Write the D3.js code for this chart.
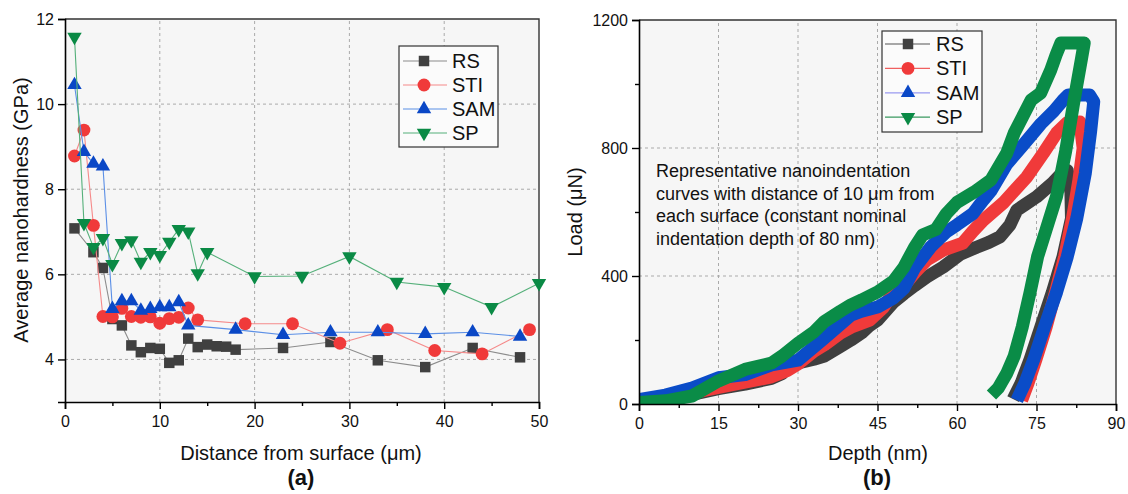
<!DOCTYPE html>
<html>
<head>
<meta charset="utf-8">
<script src="https://cdn.jsdelivr.net/npm/d3@7"></script>
<style>
  body { margin: 0; background: #fff; }
  svg text { font-family: "Liberation Sans", Arial, sans-serif; fill: #111; }
</style>
</head>
<body>
<svg id="fig" width="1128" height="494"></svg>
<script>
// ---- panel (a): hardness vs distance ----
const seriesNames = ['RS', 'STI', 'SAM', 'SP'];

const rsDist  = [1, 3, 4, 5, 6, 7, 8, 9, 10, 11, 12, 13, 14, 15, 16, 17, 18, 23, 28, 33, 38, 43, 48];
const rsHard  = [7.08, 6.52, 6.15, 4.95, 4.8, 4.33, 4.17, 4.27, 4.25, 3.92, 3.98, 4.49, 4.29, 4.35, 4.31, 4.3, 4.23, 4.27, 4.41, 3.98, 3.82, 4.27, 4.05];
const stiDist = [1, 2, 3, 4, 5, 6, 7, 8, 9, 10, 11, 12, 13, 14, 19, 24, 29, 34, 39, 44, 49];
const stiHard = [8.78, 9.39, 7.15, 5.01, 5.0, 5.2, 5.01, 4.99, 5.0, 4.85, 4.96, 4.99, 5.21, 4.93, 4.84, 4.84, 4.38, 4.7, 4.21, 4.13, 4.7];
const samDist = [1, 2, 3, 4, 5, 6, 7, 8, 9, 10, 11, 12, 13, 18, 23, 28, 33, 38, 43, 48];
const samHard = [10.45, 8.88, 8.6, 8.54, 5.19, 5.37, 5.37, 5.15, 5.19, 5.23, 5.23, 5.35, 4.8, 4.7, 4.58, 4.64, 4.64, 4.6, 4.64, 4.54];
const spDist  = [1, 2, 3, 4, 5, 6, 7, 8, 9, 10, 11, 12, 13, 14, 15, 20, 25, 30, 35, 40, 45, 50];
const spHard  = [11.58, 7.2, 6.64, 6.85, 6.24, 6.73, 6.8, 6.29, 6.52, 6.45, 6.76, 7.06, 7.0, 6.02, 6.52, 5.95, 5.96, 6.42, 5.82, 5.7, 5.23, 5.79];

const distTicks  = [0, 10, 20, 30, 40, 50];
const distMinor  = [5, 15, 25, 35, 45];
const hardTicks  = [4, 6, 8, 10, 12];

// ---- panel (b): load vs depth (loading, hold, unloading) ----
const rsDepth  = [0, 5, 10, 15, 20, 25, 27, 28, 30, 33, 35, 38, 40, 42, 43.5, 45, 48, 50, 52, 54.3, 57.4, 60.6, 63.7, 66, 68.1, 70, 71.3, 73, 75, 78, 80, 80.8, 81.5, 81.6, 80, 78, 75.8, 73.8, 72.1, 70.6];
const rsLoad   = [5, 15, 30, 48, 62, 80, 95, 115, 128, 140, 150, 180, 200, 222, 245, 262, 318, 345, 370, 397, 428, 468, 490, 505, 522, 560, 606, 625, 647, 690, 725, 730, 660, 580, 460, 350, 240, 140, 65, 15];
const stiDepth = [0, 5, 10, 15, 20, 25, 28, 30, 33, 35, 38, 40, 43.5, 46, 47.4, 49.8, 52, 54.3, 57.4, 61.1, 63, 65, 68.7, 71, 73.2, 76.3, 78.8, 80.7, 83.2, 83.8, 83, 81.8, 80.3, 78.6, 76.8, 74.9, 73.4, 72.2];
const stiLoad  = [8, 20, 35, 52, 68, 85, 105, 125, 165, 185, 222, 240, 262, 300, 334, 366, 410, 450, 481, 503, 540, 575, 628, 670, 710, 784, 847, 878, 881, 800, 700, 580, 460, 350, 240, 140, 65, 12];
const samDepth = [0, 5, 10, 15, 20, 25, 30, 35, 40, 42, 45, 48, 50, 52, 55, 58, 60, 63, 65, 66.4, 69.4, 72.6, 75.8, 78.3, 80.2, 81, 85, 85.8, 85.2, 84.2, 82.6, 80.8, 78.8, 76.5, 74.5, 72.8, 71.3];
const samLoad  = [14, 28, 50, 82, 92, 122, 137, 206, 278, 290, 303, 331, 362, 425, 490, 538, 560, 595, 638, 666, 750, 812, 875, 916, 953, 966, 966, 945, 850, 720, 580, 460, 350, 240, 140, 65, 12];
const spDepth  = [0, 5, 10, 15, 20, 25, 27, 30, 33, 35, 38, 40, 42, 45, 48, 50, 52, 53.5, 56, 58, 60, 63.2, 66.4, 69.4, 70.8, 74, 75.8, 77.7, 78.7, 79.6, 84, 83.5, 82, 80.5, 78.8, 76.8, 75.2, 73.8, 72.3, 70.8, 69.4, 67.8, 66.5];
const spLoad   = [5, 10, 25, 72, 108, 128, 150, 190, 225, 258, 290, 310, 325, 350, 384, 428, 490, 528, 545, 595, 630, 662, 700, 784, 847, 950, 972, 1044, 1091, 1128, 1128, 1080, 940, 790, 650, 544, 460, 350, 240, 150, 96, 50, 28];

const depthTicks = [0, 15, 30, 45, 60, 75, 90];
const depthMinor = [7.5, 22.5, 37.5, 52.5, 67.5, 82.5];
const loadTicks  = [0, 400, 800, 1200];
const loadMinor  = [200, 600, 1000];

const noteLines = [
  'Representative nanoindentation',
  'curves with distance of 10 \u03bcm from',
  'each surface (constant nominal',
  'indentation depth of 80 nm)'
];

const markColors  = ['#404040', '#f03a3a', '#0a47c6', '#0a8a45'];
const lineColors  = ['#8c8c8c', '#f58a8a', '#5b8fe6', '#55b07a'];
const curveColors = ['#3f3f3f', '#f03a3a', '#0a4cc8', '#0a8c47'];
const legLineB    = ['#555555', '#f06060', '#9a9af0', '#3a9a60'];

const svg = d3.select('#fig');

function symbolPath(i, size) {
  const types = [d3.symbolSquare, d3.symbolCircle, d3.symbolTriangle, d3.symbolTriangle];
  return d3.symbol().type(types[i]).size(size)();
}
function symbolRot(i) { return i === 3 ? ' rotate(180)' : ''; }

function styleAxis(g) {
  g.select('.domain').attr('stroke', '#000').attr('stroke-width', 1.6);
  g.selectAll('.tick line').attr('stroke', '#000').attr('stroke-width', 1.4);
  g.selectAll('.tick text').style('font-size', '16px').attr('fill', '#111');
}

function panel(x, y, xt, yt) {
  const [x0, x1] = x.range();
  const [y0, y1] = y.range();
  const g = svg.append('g');

  g.append('rect')
    .attr('x', x0).attr('y', y1)
    .attr('width', x1 - x0).attr('height', y0 - y1)
    .attr('fill', '#f6f6f6');

  // grid
  g.selectAll('.vg').data(xt.slice(1, -1)).enter().append('line')
    .attr('x1', d => x(d)).attr('x2', d => x(d))
    .attr('y1', y0).attr('y2', y1)
    .attr('stroke', '#aaa').attr('stroke-width', 1).attr('stroke-dasharray', '3,3');
  g.selectAll('.hg').data(yt.filter(d => y(d) < y0 - 1 && y(d) > y1 + 1)).enter().append('line')
    .attr('y1', d => y(d)).attr('y2', d => y(d))
    .attr('x1', x0).attr('x2', x1)
    .attr('stroke', '#aaa').attr('stroke-width', 1).attr('stroke-dasharray', '3,3');

  // frame top/right
  g.append('path')
    .attr('d', `M${x0},${y1}H${x1}V${y0}`)
    .attr('fill', 'none').attr('stroke', '#333').attr('stroke-width', 1.4);

  return g;
}

function axes(x, y, xt, xm, yt, ym) {
  const [x0] = x.range();
  const [y0] = y.range();
  const ax = svg.append('g').attr('transform', `translate(0,${y0})`)
    .call(d3.axisBottom(x).tickValues(xt).tickSize(7).tickPadding(7).tickFormat(d3.format('d')));
  styleAxis(ax);
  if (xm.length) {
    const axm = svg.append('g').attr('transform', `translate(0,${y0})`)
      .call(d3.axisBottom(x).tickValues(xm).tickSize(4).tickFormat(''));
    styleAxis(axm);
    axm.select('.domain').remove();
  }
  const ay = svg.append('g').attr('transform', `translate(${x0},0)`)
    .call(d3.axisLeft(y).tickValues(yt).tickSize(7).tickPadding(4).tickFormat(d3.format('d')));
  styleAxis(ay);
  if (ym.length) {
    const aym = svg.append('g').attr('transform', `translate(${x0},0)`)
      .call(d3.axisLeft(y).tickValues(ym).tickSize(4).tickFormat(''));
    styleAxis(aym);
    aym.select('.domain').remove();
  }
}

// ================= panel (a) =================
const xA = d3.scaleLinear().domain([0, 50]).range([65, 539]);
const yA = d3.scaleLinear().domain([3, 12]).range([402, 19]);

panel(xA, yA, distTicks, hardTicks);

const dataA = [
  d3.zip(rsDist, rsHard),
  d3.zip(stiDist, stiHard),
  d3.zip(samDist, samHard),
  d3.zip(spDist, spHard)
];

const lineA = d3.line().x(d => xA(d[0])).y(d => yA(d[1]));
const sizesA = [110, 130, 90, 90];

dataA.forEach((pts, i) => {
  const g = svg.append('g');
  g.append('path').attr('d', lineA(pts))
    .attr('fill', 'none').attr('stroke', lineColors[i]).attr('stroke-width', 1.1);
  g.selectAll('path.m').data(pts).enter().append('path')
    .attr('class', 'm')
    .attr('d', symbolPath(i, sizesA[i]))
    .attr('transform', d => `translate(${xA(d[0])},${yA(d[1])})${symbolRot(i)}`)
    .attr('fill', markColors[i]);
});

axes(xA, yA, distTicks, distMinor, hardTicks, []);

// legend (a)
const legA = svg.append('g');
legA.append('rect').attr('x', 399).attr('y', 46).attr('width', 99).attr('height', 101)
  .attr('fill', '#fbfbfb').attr('stroke', '#333').attr('stroke-width', 1.2);
seriesNames.forEach((name, i) => {
  const cy = 61 + i * 24;
  legA.append('line').attr('x1', 403).attr('x2', 447).attr('y1', cy).attr('y2', cy)
    .attr('stroke', lineColors[i]).attr('stroke-width', 1.2);
  legA.append('path').attr('d', symbolPath(i, sizesA[i]))
    .attr('transform', `translate(424,${cy})${symbolRot(i)}`)
    .attr('fill', markColors[i]);
  legA.append('text').attr('x', 452).attr('y', cy + 7).style('font-size', '20px').text(name);
});

svg.append('text').attr('x', 301).attr('y', 460).attr('text-anchor', 'middle')
  .style('font-size', '20px').text('Distance from surface (\u03bcm)');
svg.append('text').attr('transform', 'translate(28,210) rotate(-90)').attr('text-anchor', 'middle')
  .style('font-size', '20px').text('Average nanohardness (GPa)');
svg.append('text').attr('x', 301).attr('y', 485).attr('text-anchor', 'middle')
  .style('font-size', '22px').style('font-weight', 'bold').text('(a)');

// ================= panel (b) =================
const xB = d3.scaleLinear().domain([0, 90]).range([639, 1116]);
const yB = d3.scaleLinear().domain([0, 1200]).range([404, 20]);

panel(xB, yB, depthTicks, loadTicks);

svg.append('clipPath').attr('id', 'clipB').append('rect')
  .attr('x', 639).attr('y', 20).attr('width', 477).attr('height', 384);

const dataB = [
  d3.zip(rsDepth, rsLoad),
  d3.zip(stiDepth, stiLoad),
  d3.zip(samDepth, samLoad),
  d3.zip(spDepth, spLoad)
];
const lineB = d3.line().x(d => xB(d[0])).y(d => yB(d[1]));

const curves = svg.append('g').attr('clip-path', 'url(#clipB)');
dataB.forEach((pts, i) => {
  curves.append('path').attr('d', lineB(pts))
    .attr('fill', 'none').attr('stroke', curveColors[i])
    .attr('stroke-width', 13).attr('stroke-linejoin', 'round');
});

axes(xB, yB, depthTicks, depthMinor, loadTicks, loadMinor);

noteLines.forEach((t, i) => {
  svg.append('text').attr('x', 656).attr('y', 177 + i * 22.7)
    .style('font-size', '18px').text(t);
});

// legend (b)
const legB = svg.append('g');
legB.append('rect').attr('x', 882).attr('y', 31).attr('width', 100).attr('height', 101)
  .attr('fill', '#fbfbfb').attr('stroke', '#333').attr('stroke-width', 1.2);
seriesNames.forEach((name, i) => {
  const cy = 44 + i * 24.4;
  legB.append('line').attr('x1', 885).attr('x2', 930).attr('y1', cy).attr('y2', cy)
    .attr('stroke', legLineB[i]).attr('stroke-width', 1.2);
  legB.append('path').attr('d', symbolPath(i, sizesA[i]))
    .attr('transform', `translate(908,${cy})${symbolRot(i)}`)
    .attr('fill', markColors[i]);
  legB.append('text').attr('x', 936).attr('y', cy + 7).style('font-size', '20px').text(name);
});

svg.append('text').attr('x', 878).attr('y', 460).attr('text-anchor', 'middle')
  .style('font-size', '20px').text('Depth (nm)');
svg.append('text').attr('transform', 'translate(582,212) rotate(-90)').attr('text-anchor', 'middle')
  .style('font-size', '20px').text('Load (\u03bcN)');
svg.append('text').attr('x', 877).attr('y', 485).attr('text-anchor', 'middle')
  .style('font-size', '22px').style('font-weight', 'bold').text('(b)');
</script>
</body>
</html>
